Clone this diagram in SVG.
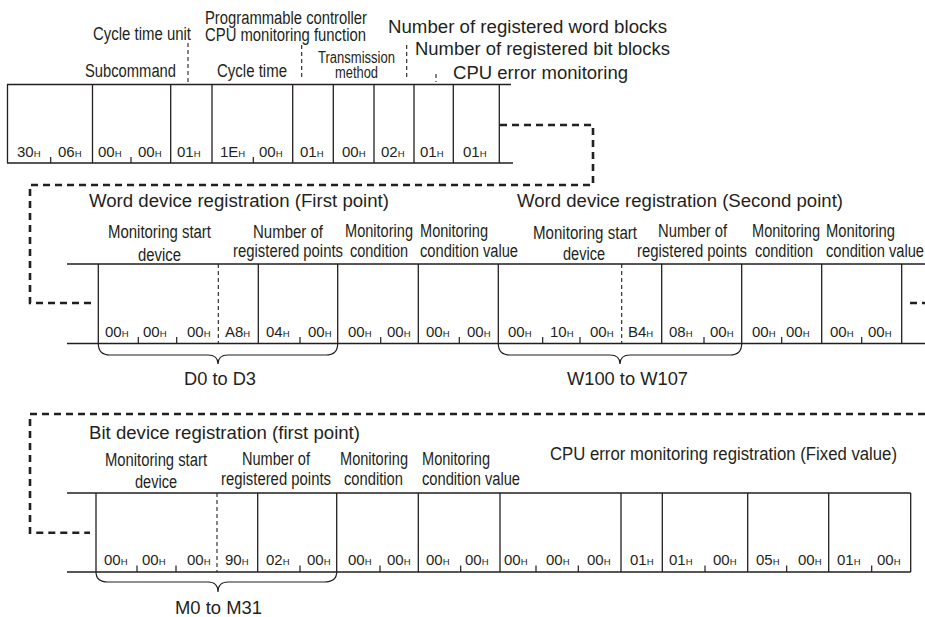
<svg xmlns="http://www.w3.org/2000/svg" width="925" height="617" viewBox="0 0 925 617">
<style>
text{font-family:"Liberation Sans",Arial,sans-serif;fill:#231f20}
.lc{font-size:18px}
.ln{font-size:17.5px}
.hx{font-size:15px}
.h{font-size:9.5px}
.ln1{stroke:#231f20;stroke-width:1.3;fill:none}
.dv{stroke:#231f20;stroke-width:1.1;stroke-dasharray:4 3;fill:none}
.tk{stroke:#231f20;stroke-width:1.2}
.con{stroke:#231f20;stroke-width:2.6;stroke-dasharray:7 5;fill:none}
.br{stroke:#231f20;stroke-width:1.2;fill:none}
</style>
<rect width="925" height="617" fill="#fff"/>

<g id="connectors">
<path class="con" d="M500,125 H593 V185 H30 V303 H95"/>
<path class="con" d="M910,303 H925"/>
<path class="con" d="M925,414 H30 V532.7 H90"/>
</g>

<g id="header-row">
<text class="lc" x="93" y="40" textLength="98" lengthAdjust="spacingAndGlyphs">Cycle time unit</text>
<text class="lc" x="85" y="77" textLength="91" lengthAdjust="spacingAndGlyphs">Subcommand</text>
<text class="lc" x="217" y="77" textLength="70" lengthAdjust="spacingAndGlyphs">Cycle time</text>
<text class="lc" x="205" y="24" textLength="162" lengthAdjust="spacingAndGlyphs">Programmable controller</text>
<text class="lc" x="205" y="41" textLength="161" lengthAdjust="spacingAndGlyphs">CPU monitoring function</text>
<text class="lc" x="318" y="63" textLength="77" lengthAdjust="spacingAndGlyphs" style="font-size:16px">Transmission</text>
<text class="lc" x="335" y="78" textLength="43" lengthAdjust="spacingAndGlyphs" style="font-size:16px">method</text>
<text class="ln" x="388" y="33" textLength="279" lengthAdjust="spacingAndGlyphs">Number of registered word blocks</text>
<text class="ln" x="415" y="55" textLength="255" lengthAdjust="spacingAndGlyphs">Number of registered bit blocks</text>
<text class="ln" x="453" y="79" textLength="175" lengthAdjust="spacingAndGlyphs">CPU error monitoring</text>
<path class="dv" d="M188,43 V82 M301.7,45 V80 M406.7,45 V80 M436,74 V82"/>
<path class="ln1" d="M7,84.5 H511 M7,163 H513 M7.5,84.5 V163 M92.5,84.5 V163 M170.7,84.5 V163 M212,84.5 V163 M292.7,84.5 V163 M333.3,84.5 V163 M374,84.5 V163 M414,84.5 V163 M453.3,84.5 V163 M499.3,84.5 V163"/>
<path class="tk" d="M50.7,157 V163 M131,157 V163 M253.3,157 V163"/>
<text class="hx" x="17" y="157">30<tspan class="h">H</tspan></text>
<text class="hx" x="58" y="157">06<tspan class="h">H</tspan></text>
<text class="hx" x="98" y="157">00<tspan class="h">H</tspan></text>
<text class="hx" x="138" y="157">00<tspan class="h">H</tspan></text>
<text class="hx" x="177" y="157">01<tspan class="h">H</tspan></text>
<text class="hx" x="220" y="157">1E<tspan class="h">H</tspan></text>
<text class="hx" x="259" y="157">00<tspan class="h">H</tspan></text>
<text class="hx" x="300" y="157">01<tspan class="h">H</tspan></text>
<text class="hx" x="342" y="157">00<tspan class="h">H</tspan></text>
<text class="hx" x="381" y="157">02<tspan class="h">H</tspan></text>
<text class="hx" x="420" y="157">01<tspan class="h">H</tspan></text>
<text class="hx" x="463" y="157">01<tspan class="h">H</tspan></text>
</g>

<g id="word-device-row">
<text class="ln" x="89" y="207" textLength="300" lengthAdjust="spacingAndGlyphs">Word device registration (First point)</text>
<text class="ln" x="517" y="207" textLength="326" lengthAdjust="spacingAndGlyphs">Word device registration (Second point)</text>
<text class="lc" x="108" y="238" textLength="103" lengthAdjust="spacingAndGlyphs">Monitoring start</text>
<text class="lc" x="138" y="261" textLength="43" lengthAdjust="spacingAndGlyphs">device</text>
<text class="lc" x="253" y="238" textLength="70" lengthAdjust="spacingAndGlyphs">Number of</text>
<text class="lc" x="233" y="257" textLength="110" lengthAdjust="spacingAndGlyphs">registered points</text>
<text class="lc" x="345" y="237" textLength="68" lengthAdjust="spacingAndGlyphs">Monitoring</text>
<text class="lc" x="350" y="257" textLength="58" lengthAdjust="spacingAndGlyphs">condition</text>
<text class="lc" x="420" y="237" textLength="68" lengthAdjust="spacingAndGlyphs">Monitoring</text>
<text class="lc" x="420" y="257" textLength="98" lengthAdjust="spacingAndGlyphs">condition value</text>
<text class="lc" x="533" y="239" textLength="104" lengthAdjust="spacingAndGlyphs">Monitoring start</text>
<text class="lc" x="563" y="260" textLength="42" lengthAdjust="spacingAndGlyphs">device</text>
<text class="lc" x="658" y="237" textLength="69" lengthAdjust="spacingAndGlyphs">Number of</text>
<text class="lc" x="637" y="257" textLength="110" lengthAdjust="spacingAndGlyphs">registered points</text>
<text class="lc" x="752" y="237" textLength="68" lengthAdjust="spacingAndGlyphs">Monitoring</text>
<text class="lc" x="755" y="257" textLength="58" lengthAdjust="spacingAndGlyphs">condition</text>
<text class="lc" x="826" y="237" textLength="69" lengthAdjust="spacingAndGlyphs">Monitoring</text>
<text class="lc" x="826" y="257" textLength="98" lengthAdjust="spacingAndGlyphs">condition value</text>
<path class="ln1" d="M67,264 H925 M67,343.5 H925 M98.3,264 V343.5 M258.3,264 V343.5 M337.7,264 V343.5 M418.3,264 V343.5 M498.3,264 V343.5 M661.7,264 V343.5 M741.7,264 V343.5 M821.7,264 V343.5 M901.7,264 V343.5"/>
<path class="dv" d="M218.3,264 V343.5 M621.7,264 V343.5"/>
<path class="tk" d="M138.3,337 V343.5 M176.7,337 V343.5 M300,337 V343.5 M380.7,337 V343.5 M459.3,337 V343.5 M542.7,337 V343.5 M580,337 V343.5 M704,337 V343.5 M781.7,337 V343.5 M861.7,337 V343.5"/>
<text class="hx" x="105" y="337">00<tspan class="h">H</tspan></text>
<text class="hx" x="143" y="337">00<tspan class="h">H</tspan></text>
<text class="hx" x="187" y="337">00<tspan class="h">H</tspan></text>
<text class="hx" x="225" y="337">A8<tspan class="h">H</tspan></text>
<text class="hx" x="266" y="337">04<tspan class="h">H</tspan></text>
<text class="hx" x="308" y="337">00<tspan class="h">H</tspan></text>
<text class="hx" x="348" y="337">00<tspan class="h">H</tspan></text>
<text class="hx" x="387" y="337">00<tspan class="h">H</tspan></text>
<text class="hx" x="426" y="337">00<tspan class="h">H</tspan></text>
<text class="hx" x="467" y="337">00<tspan class="h">H</tspan></text>
<text class="hx" x="508" y="337">00<tspan class="h">H</tspan></text>
<text class="hx" x="550" y="337">10<tspan class="h">H</tspan></text>
<text class="hx" x="590" y="337">00<tspan class="h">H</tspan></text>
<text class="hx" x="628" y="337">B4<tspan class="h">H</tspan></text>
<text class="hx" x="669" y="337">08<tspan class="h">H</tspan></text>
<text class="hx" x="710" y="337">00<tspan class="h">H</tspan></text>
<text class="hx" x="752" y="337">00<tspan class="h">H</tspan></text>
<text class="hx" x="786" y="337">00<tspan class="h">H</tspan></text>
<text class="hx" x="830" y="337">00<tspan class="h">H</tspan></text>
<text class="hx" x="868" y="337">00<tspan class="h">H</tspan></text>
<path class="br" d="M98.3,343.5 Q98.3,355 110,355 H208 Q218,355 218,364 Q218,355 228,355 H326 Q337.7,355 337.7,343.5"/>
<path class="br" d="M498.3,343.5 Q498.3,355 510,355 H610 Q620,355 620,364 Q620,355 630,355 H730 Q741.7,355 741.7,343.5"/>
<text class="ln" x="184" y="385" textLength="72" lengthAdjust="spacingAndGlyphs">D0 to D3</text>
<text class="ln" x="567" y="385" textLength="121" lengthAdjust="spacingAndGlyphs">W100 to W107</text>
</g>

<g id="bit-device-row">
<text class="ln" x="89" y="439" textLength="271" lengthAdjust="spacingAndGlyphs">Bit device registration (first point)</text>
<text class="ln" x="550" y="460" textLength="347" lengthAdjust="spacingAndGlyphs">CPU error monitoring registration (Fixed value)</text>
<text class="lc" x="105" y="466" textLength="102" lengthAdjust="spacingAndGlyphs">Monitoring start</text>
<text class="lc" x="135" y="488" textLength="42" lengthAdjust="spacingAndGlyphs">device</text>
<text class="lc" x="242" y="465" textLength="68" lengthAdjust="spacingAndGlyphs">Number of</text>
<text class="lc" x="221" y="485" textLength="110" lengthAdjust="spacingAndGlyphs">registered points</text>
<text class="lc" x="340" y="465" textLength="68" lengthAdjust="spacingAndGlyphs">Monitoring</text>
<text class="lc" x="344" y="485" textLength="59" lengthAdjust="spacingAndGlyphs">condition</text>
<text class="lc" x="422" y="465" textLength="68" lengthAdjust="spacingAndGlyphs">Monitoring</text>
<text class="lc" x="422" y="485" textLength="98" lengthAdjust="spacingAndGlyphs">condition value</text>
<path class="ln1" d="M67,493 H910.7 M67,572 H910.7 M96,493 V572 M257.7,493 V572 M336.7,493 V572 M418.3,493 V572 M500,493 V572 M621,493 V572 M662.3,493 V572 M747.7,493 V572 M828.7,493 V572 M910.7,493 V572"/>
<path class="dv" d="M217,493 V572"/>
<path class="tk" d="M137,565.5 V572 M176,565.5 V572 M300,565.5 V572 M380,565.5 V572 M460.7,565.5 V572 M536,565.5 V572 M578.3,565.5 V572 M705,565.5 V572 M786.7,565.5 V572 M871.7,565.5 V572"/>
<text class="hx" x="104" y="565">00<tspan class="h">H</tspan></text>
<text class="hx" x="142" y="565">00<tspan class="h">H</tspan></text>
<text class="hx" x="187" y="565">00<tspan class="h">H</tspan></text>
<text class="hx" x="225" y="565">90<tspan class="h">H</tspan></text>
<text class="hx" x="266" y="565">02<tspan class="h">H</tspan></text>
<text class="hx" x="307" y="565">00<tspan class="h">H</tspan></text>
<text class="hx" x="348" y="565">00<tspan class="h">H</tspan></text>
<text class="hx" x="387" y="565">00<tspan class="h">H</tspan></text>
<text class="hx" x="426" y="565">00<tspan class="h">H</tspan></text>
<text class="hx" x="465" y="565">00<tspan class="h">H</tspan></text>
<text class="hx" x="504" y="565">00<tspan class="h">H</tspan></text>
<text class="hx" x="546" y="565">00<tspan class="h">H</tspan></text>
<text class="hx" x="587" y="565">00<tspan class="h">H</tspan></text>
<text class="hx" x="630" y="565">01<tspan class="h">H</tspan></text>
<text class="hx" x="669" y="565">01<tspan class="h">H</tspan></text>
<text class="hx" x="713" y="565">00<tspan class="h">H</tspan></text>
<text class="hx" x="756" y="565">05<tspan class="h">H</tspan></text>
<text class="hx" x="798" y="565">00<tspan class="h">H</tspan></text>
<text class="hx" x="837" y="565">01<tspan class="h">H</tspan></text>
<text class="hx" x="877" y="565">00<tspan class="h">H</tspan></text>
<path class="br" d="M96,572 Q96,582 108,582 H208 Q218,582 218,592 Q218,582 228,582 H324 Q336.7,582 336.7,572"/>
<text class="ln" x="175" y="614" textLength="87" lengthAdjust="spacingAndGlyphs">M0 to M31</text>
</g>
</svg>
